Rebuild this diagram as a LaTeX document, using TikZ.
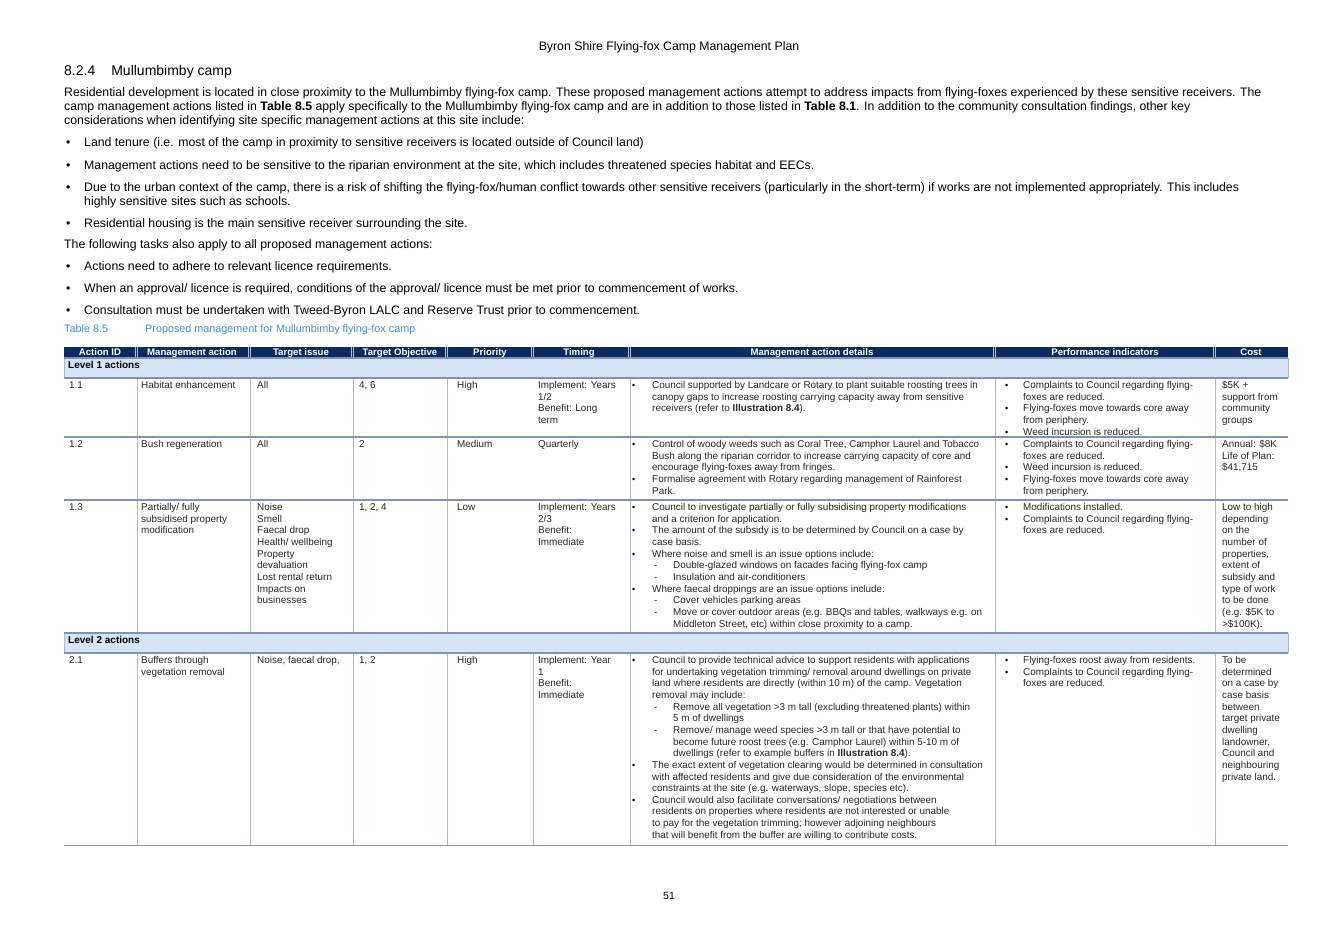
\documentclass[tikz,border=0pt]{standalone}
\usepackage{fontspec}
\setmainfont{Liberation Sans}
\newcommand\ml[1]{\begin{tabular}[t]{@{}l@{}}#1\end{tabular}}
\begin{document}
\begin{tikzpicture}[x=1pt,y=-1pt,
  tx/.style={font=\fontsize{9.9}{11.65}\selectfont,anchor=base west,inner sep=0pt,text=black!85},
  bd/.style={font=\fontsize{12.3}{14}\selectfont,anchor=base west,inner sep=0pt},
  hd/.style={font=\fontsize{9.6}{10}\selectfont\bfseries,text=white,inner sep=0pt,anchor=base},
  captxt/.style={font=\fontsize{10.8}{12}\selectfont,text=capblue,anchor=base west,inner sep=0pt},
  bul/.style={font=\fontsize{9}{10}\selectfont,anchor=base west,inner sep=0pt},
  grid/.style={draw=gridc,line width=0.5pt},
  sep/.style={draw=sepc,line width=1.3pt}]
\definecolor{navy}{HTML}{0B2A5E}
\definecolor{lvl}{HTML}{D6E4F8}
\definecolor{gridc}{HTML}{A9B8D4}
\definecolor{sepc}{HTML}{7F93BA}
\definecolor{capblue}{HTML}{3F8FD2}
\useasboundingbox[fill=white] (0,0) rectangle (1339,947);
% page header
\node[font=\fontsize{12.3}{13}\selectfont,anchor=base,inner sep=0] (title) at (669,51) {Byron Shire Flying-fox Camp Management Plan};
\node[font=\fontsize{14}{15}\selectfont,anchor=base west,inner sep=0] (sec) at (64,76) {8.2.4\hspace{16pt}Mullumbimby camp};
\node[bd] (p1) at (64,97) {\ml{Residential development is located in close proximity to the Mullumbimby flying-fox camp. These proposed management actions attempt to address impacts from flying-foxes experienced by these sensitive receivers. The\\
camp management actions listed in \textbf{Table 8.5} apply specifically to the Mullumbimby flying-fox camp and are in addition to those listed in \textbf{Table 8.1}. In addition to the community consultation findings, other key\\
considerations when identifying site specific management actions at this site include:}};
\foreach \yy/\t [count=\i] in {147/{Land tenure (i.e. most of the camp in proximity to sensitive receivers is located outside of Council land)},
 169/{Management actions need to be sensitive to the riparian environment at the site, which includes threatened species habitat and EECs.},
 191/{\ml{Due to the urban context of the camp, there is a risk of shifting the flying-fox/human conflict towards other sensitive receivers (particularly in the short-term) if works are not implemented appropriately. This includes\\highly sensitive sites such as schools.}},
 227/{Residential housing is the main sensitive receiver surrounding the site.},
 270/{Actions need to adhere to relevant licence requirements.},
 292/{When an approval/ licence is required, conditions of the approval/ licence must be met prior to commencement of works.},
 314/{Consultation must be undertaken with Tweed-Byron LALC and Reserve Trust prior to commencement.}}
 {\node[bd] (bb\i) at (66,\yy) {•}; \node[bd] (bt\i) at (84,\yy) {\t};}
\node[bd] (p2) at (64,248) {The following tasks also apply to all proposed management actions:};
\node[captxt] (c1) at (64,332) {Table 8.5};
\node[captxt] (c2) at (145,332) {Proposed management for Mullumbimby flying-fox camp};
% table backgrounds
\fill[navy] (64,347) rectangle (1288,358);
\fill[lvl] (64,358) rectangle (1288,378);
\fill[lvl] (64,633) rectangle (1288,653);
\draw[grid] (64,358) -- (64,378) (1288,358) -- (1288,378) (64,633) -- (64,653) (1288,633) -- (1288,653);
% header separators
\foreach \x in {137,250,353,447,533,630,995,1215}
  {\draw[white!70!navy,line width=0.4pt] (\x-2,347) -- (\x-2,358) (\x,347) -- (\x,358);}
\foreach \x/\t [count=\i] in {100/Action ID,192/Management action,301/Target issue,400/Target Objective,490/Priority,579/Timing,812/Management action details,1105/Performance indicators,1251/Cost}
  {\node[hd] (h\i) at (\x,355.8) {\t};}
\node[font=\fontsize{10}{10}\selectfont\bfseries,anchor=base west,inner sep=0] (l1) at (68,368.5) {Level 1 actions};
\node[font=\fontsize{10}{10}\selectfont\bfseries,anchor=base west,inner sep=0] (l2) at (68,643) {Level 2 actions};
% column lines
\foreach \x in {137,250,353,447,630,995,1215}
 {\draw[grid] (\x,378) -- (\x,633); \draw[grid] (\x,653) -- (\x,845);}
\draw[grid] (533,653) -- (533,845);
% row separators
\foreach \yy in {358,378,437,500,633,653} {\draw[sep] (64,\yy) -- (1288,\yy);}
\draw[gray!80,line width=1pt] (64,845) -- (1288,845);
% row 1.1
\node[tx] (a11) at (69,388.5) {1.1};
\node[tx] (b11) at (141,388.5) {Habitat enhancement};
\node[tx] (c11) at (257,388.5) {All};
\node[tx] (d11) at (359,388.5) {4, 6};
\node[tx] (e11) at (457,388.5) {High};
\node[tx] (f11) at (538,388.5) {\ml{Implement: Years\\1/2\\Benefit: Long\\term}};
\node[bul] (g11b) at (632,388.5) {•};
\node[tx] (g11) at (652,388.5) {\ml{Council supported by Landcare or Rotary to plant suitable roosting trees in\\canopy gaps to increase roosting carrying capacity away from sensitive\\receivers (refer to \textbf{Illustration 8.4}).}};
\node[bul] (p11a) at (1005,388.5) {•};
\node[tx] (p11) at (1023,388.5) {\ml{Complaints to Council regarding flying-\\foxes are reduced.}};
\node[bul] (p12a) at (1005,411.8) {•};
\node[tx] (p12) at (1023,411.8) {\ml{Flying-foxes move towards core away\\from periphery.}};
\node[bul] (p13a) at (1005,435.1) {•};
\node[tx] (p13) at (1023,435.1) {Weed incursion is reduced.};
\node[tx] (k11) at (1222,388.5) {\ml{\$5K +\\support from\\community\\groups}};
% row 1.2
\node[tx] (a12) at (69,447.5) {1.2};
\node[tx] (b12) at (141,447.5) {Bush regeneration};
\node[tx] (c12) at (257,447.5) {All};
\node[tx] (d12) at (359,447.5) {2};
\node[tx] (e12) at (457,447.5) {Medium};
\node[tx] (f12) at (538,447.5) {Quarterly};
\node[bul] (g12b) at (632,447.5) {•};
\node[tx] (g12) at (652,447.5) {\ml{Control of woody weeds such as Coral Tree, Camphor Laurel and Tobacco\\Bush along the riparian corridor to increase carrying capacity of core and\\encourage flying-foxes away from fringes.}};
\node[bul] (g12c) at (632,482.5) {•};
\node[tx] (g12d) at (652,482.5) {\ml{Formalise agreement with Rotary regarding management of Rainforest\\Park.}};
\node[bul] (q1a) at (1005,447.5) {•};
\node[tx] (q1) at (1023,447.5) {\ml{Complaints to Council regarding flying-\\foxes are reduced.}};
\node[bul] (q2a) at (1005,470.8) {•};
\node[tx] (q2) at (1023,470.8) {Weed incursion is reduced.};
\node[bul] (q3a) at (1005,482.5) {•};
\node[tx] (q3) at (1023,482.5) {\ml{Flying-foxes move towards core away\\from periphery.}};
\node[tx] (k12) at (1222,447.5) {\ml{Annual: \$8K\\Life of Plan:\\\$41,715}};
% row 1.3
\node[tx] (a13) at (69,510.5) {1.3};
\node[tx] (b13) at (141,510.5) {\ml{Partially/ fully\\subsidised property\\modification}};
\node[tx] (c13) at (257,510.5) {\ml{Noise\\Smell\\Faecal drop\\Health/ wellbeing\\Property\\devaluation\\Lost rental return\\Impacts on\\businesses}};
\node[tx] (d13) at (359,510.5) {1, 2, 4};
\node[tx] (e13) at (457,510.5) {Low};
\node[tx] (f13) at (538,510.5) {\ml{Implement: Years\\2/3\\Benefit:\\Immediate}};
\node[bul] (r1a) at (632,510.5) {•};
\node[tx] (r1) at (652,510.5) {\ml{Council to investigate partially or fully subsidising property modifications\\and a criterion for application.}};
\node[bul] (r2a) at (632,533.8) {•};
\node[tx] (r2) at (652,533.8) {\ml{The amount of the subsidy is to be determined by Council on a case by\\case basis.}};
\node[bul] (r3a) at (632,557.1) {•};
\node[tx] (r3) at (652,557.1) {Where noise and smell is an issue options include:};
\node[tx] (r4a) at (654,568.8) {-};
\node[tx] (r4) at (673,568.8) {Double-glazed windows on facades facing flying-fox camp};
\node[tx] (r5a) at (654,580.4) {-};
\node[tx] (r5) at (673,580.4) {Insulation and air-conditioners};
\node[bul] (r6a) at (632,592.1) {•};
\node[tx] (r6) at (652,592.1) {Where faecal droppings are an issue options include:};
\node[tx] (r7a) at (654,603.7) {-};
\node[tx] (r7) at (673,603.7) {Cover vehicles parking areas};
\node[tx] (r8a) at (654,615.4) {-};
\node[tx] (r8) at (673,615.4) {\ml{Move or cover outdoor areas (e.g. BBQs and tables, walkways e.g. on\\Middleton Street, etc) within close proximity to a camp.}};
\node[bul] (s1a) at (1005,510.5) {•};
\node[tx] (s1) at (1023,510.5) {Modifications installed.};
\node[bul] (s2a) at (1005,522.2) {•};
\node[tx] (s2) at (1023,522.2) {\ml{Complaints to Council regarding flying-\\foxes are reduced.}};
\node[tx] (k13) at (1222,510.5) {\ml{Low to high\\depending\\on the\\number of\\properties,\\extent of\\subsidy and\\type of work\\to be done\\(e.g. \$5K to\\>\$100K).}};
% row 2.1
\node[tx] (a21) at (69,663.5) {2.1};
\node[tx] (b21) at (141,663.5) {\ml{Buffers through\\vegetation removal}};
\node[tx] (c21) at (257,663.5) {Noise, faecal drop,};
\node[tx] (d21) at (359,663.5) {1, 2};
\node[tx] (e21) at (457,663.5) {High};
\node[tx] (f21) at (538,663.5) {\ml{Implement: Year\\1\\Benefit:\\Immediate}};
\node[bul] (t1a) at (632,663.5) {•};
\node[tx] (t1) at (652,663.5) {\ml{Council to provide technical advice to support residents with applications\\for undertaking vegetation trimming/ removal around dwellings on private\\land where residents are directly (within 10 m) of the camp. Vegetation\\removal may include:}};
\node[tx] (t2a) at (654,710.1) {-};
\node[tx] (t2) at (673,710.1) {\ml{Remove all vegetation >3 m tall (excluding threatened plants) within\\5 m of dwellings}};
\node[tx] (t3a) at (654,733.4) {-};
\node[tx] (t3) at (673,733.4) {\ml{Remove/ manage weed species >3 m tall or that have potential to\\become future roost trees (e.g. Camphor Laurel) within 5-10 m of\\dwellings (refer to example buffers in \textbf{Illustration 8.4}).}};
\node[bul] (t4a) at (632,768.4) {•};
\node[tx] (t4) at (652,768.4) {\ml{The exact extent of vegetation clearing would be determined in consultation\\with affected residents and give due consideration of the environmental\\constraints at the site (e.g. waterways, slope, species etc).}};
\node[bul] (t5a) at (632,803.3) {•};
\node[tx] (t5) at (652,803.3) {\ml{Council would also facilitate conversations/ negotiations between\\residents on properties where residents are not interested or unable\\to pay for the vegetation trimming; however adjoining neighbours\\that will benefit from the buffer are willing to contribute costs.}};
\node[bul] (u1a) at (1005,663.5) {•};
\node[tx] (u1) at (1023,663.5) {Flying-foxes roost away from residents.};
\node[bul] (u2a) at (1005,675.2) {•};
\node[tx] (u2) at (1023,675.2) {\ml{Complaints to Council regarding flying-\\foxes are reduced.}};
\node[tx] (k21) at (1222,663.5) {\ml{To be\\determined\\on a case by\\case basis\\between\\target private\\dwelling\\landowner,\\Council and\\neighbouring\\private land.}};
\node[font=\fontsize{10.5}{12}\selectfont,anchor=base,inner sep=0] (pg) at (669,899) {51};
\end{tikzpicture}
\end{document}
